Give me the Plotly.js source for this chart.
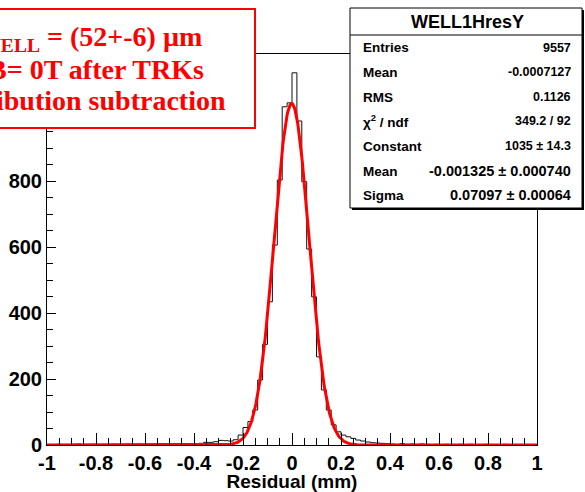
<!DOCTYPE html>
<html>
<head>
<meta charset="utf-8">
<script src="https://cdn.plot.ly/plotly-3.0.1.min.js"></script>
<style>
  html, body { margin: 0; padding: 0; background: #ffffff; }
  #plot { width: 585px; height: 492px; }
</style>
</head>
<body>
<div id="plot"></div>
<script>
// Residual histogram: 100 bins of 0.02 mm between -1 and 1 mm
const binLow = -1.0;
const binWidth = 0.02;
const counts = [
  // -1.00 .. -0.42
  1, 0, 2, 1, 1, 2, 3, 1, 1, 2,
  1, 1, 0, 2, 1, 1, 2, 1, 0, 1,
  2, 1, 1, 3, 2, 1, 2, 3, 2, 3,
  // -0.40 .. -0.02
  4, 5, 8, 8, 10, 14, 13, 12, 16, 30,
  53, 71, 106, 197, 305, 434, 606, 803, 1025, 1037,
  // 0.00 .. 0.38
  1128, 982, 798, 594, 449, 267, 167, 106, 61, 40,
  30, 25, 20, 15, 12, 9, 7, 6, 5, 4,
  // 0.40 .. 0.98
  3, 2, 4, 2, 3, 2, 3, 2, 1, 2,
  1, 2, 1, 1, 2, 1, 2, 1, 1, 2,
  0, 1, 1, 2, 1, 0, 1, 1, 0, 1
];

// Gaussian fit parameters (from the fit result)
const fitConstant = 1035;
const fitMean = -0.001325;
const fitSigma = 0.07097;

// Statistics box rows
const statTitle = 'WELL1HresY';
const statLabels = ['Entries', 'Mean', 'RMS', 'χ<sup>2</sup> / ndf', 'Constant', 'Mean', 'Sigma'];
const statValues = ['9557', '-0.0007127', '0.1126', '349.2 / 92', '1035 ± 14.3', '-0.001325 ± 0.000740', '0.07097 ± 0.00064'];

// Axis ticks
const xTickVals = [-1, -0.8, -0.6, -0.4, -0.2, 0, 0.2, 0.4, 0.6, 0.8, 1];
const xTickText = ['-1', '-0.8', '-0.6', '-0.4', '-0.2', '0', '0.2', '0.4', '0.6', '0.8', '1'];
const yTickVals = [0, 200, 400, 600, 800, 1000];
const yTickText = ['0', '200', '400', '600', '800', '1000'];

// Info pave lines
const paveLines = [
  'σ<sub>WELL</sub> = (52+-6) µm',
  'B= 0T after TRKs',
  'distribution subtraction'
];

// Histogram outline as a step line over the bin edges
const edgeX = counts.map((_, i) => binLow + i * binWidth);
edgeX.push(binLow + counts.length * binWidth);
const edgeY = counts.slice();
edgeY.push(counts[counts.length - 1]);

// Fitted gaussian curve
const fitX = [], fitY = [];
for (let i = 0; i <= 800; i++) {
  const x = -1 + i * 0.0025;
  fitX.push(x);
  fitY.push(fitConstant * Math.exp(-0.5 * Math.pow((x - fitMean) / fitSigma, 2)));
}

// Plot frame in pixels, used to place the boxes
const L = 47, R = 537, T = 54, B = 445;
const fx = p => (p - L) / (R - L);
const fy = p => (B - p) / (B - T);

const traces = [
  {
    x: edgeX, y: edgeY, type: 'scatter', mode: 'lines',
    line: { shape: 'hv', color: '#111111', width: 1 },
    hoverinfo: 'skip'
  },
  {
    x: fitX, y: fitY, type: 'scatter', mode: 'lines',
    line: { color: '#ff0000', width: 3 },
    hoverinfo: 'skip'
  }
];

const sans = 'Liberation Sans, Arial, sans-serif';
const tickFont = { family: sans, size: 20, weight: 'bold', color: '#000' };

const shapes = [
  // info pave (red frame)
  { type: 'rect', xref: 'paper', yref: 'paper', layer: 'above',
    x0: fx(-20), x1: fx(255), y0: fy(128), y1: fy(9),
    line: { color: '#ff0000', width: 2 }, fillcolor: '#ffffff' },
  // stats box shadow
  { type: 'rect', xref: 'paper', yref: 'paper', layer: 'above',
    x0: fx(352), x1: fx(584), y0: fy(210), y1: fy(10),
    line: { width: 0 }, fillcolor: '#000000' },
  // stats box
  { type: 'rect', xref: 'paper', yref: 'paper', layer: 'above',
    x0: fx(350), x1: fx(582), y0: fy(208), y1: fy(8),
    line: { color: '#000000', width: 1 }, fillcolor: '#ffffff' },
  // title separator
  { type: 'line', xref: 'paper', yref: 'paper', layer: 'above',
    x0: fx(350), x1: fx(582), y0: fy(35), y1: fy(35),
    line: { color: '#000000', width: 1 } }
];

const annotations = [];
const paveRight = [204, 206, 228];
const paveMid = [39, 69, 100];
paveLines.forEach((t, i) => {
  annotations.push({
    xref: 'paper', yref: 'paper', x: fx(paveRight[i]), y: fy(paveMid[i]),
    xanchor: 'right', yanchor: 'middle', showarrow: false, text: t,
    font: { family: 'Liberation Serif, Times New Roman, serif', size: 28, weight: 'bold', color: '#ff0000' }
  });
});

annotations.push({
  xref: 'paper', yref: 'paper', x: fx(467), y: fy(22),
  xanchor: 'center', yanchor: 'middle', showarrow: false, text: statTitle,
  font: { family: sans, size: 18, weight: 'bold', color: '#000' }
});
const rowY = [48, 72, 97, 121, 146, 171, 195];
const valueSize = [12.5, 12.5, 12.5, 12.5, 12.5, 14.5, 14.5];
statLabels.forEach((t, i) => {
  annotations.push({
    xref: 'paper', yref: 'paper', x: fx(361), y: fy(rowY[i]),
    xanchor: 'left', yanchor: 'middle', showarrow: false, text: t,
    font: { family: sans, size: 13.5, weight: 'bold', color: '#000' }
  });
  annotations.push({
    xref: 'paper', yref: 'paper', x: fx(573), y: fy(rowY[i]),
    xanchor: 'right', yanchor: 'middle', showarrow: false, text: statValues[i],
    font: { family: sans, size: valueSize[i], weight: 'bold', color: '#000' }
  });
});

const layout = {
  width: 585, height: 492,
  margin: { l: L, r: 585 - R, t: T, b: 492 - B, pad: 0 },
  paper_bgcolor: '#ffffff', plot_bgcolor: '#ffffff',
  showlegend: false,
  xaxis: {
    range: [-1, 1], tickmode: 'array', tickvals: xTickVals, ticktext: xTickText,
    ticks: 'inside', ticklen: 12, tickwidth: 1, tickcolor: '#000',
    minor: { dtick: 0.05, tick0: 0, ticks: 'inside', ticklen: 7, tickwidth: 1, tickcolor: '#000', showgrid: false },
    showline: true, linecolor: '#000', linewidth: 1, mirror: true,
    showgrid: false, zeroline: false, tickfont: tickFont,
    title: { text: 'Residual (mm)', standoff: 8,
      font: { family: sans, size: 19, weight: 'bold', color: '#000' } }
  },
  yaxis: {
    range: [0, 1185], tickmode: 'array', tickvals: yTickVals, ticktext: yTickText,
    ticks: 'inside', ticklen: 9, tickwidth: 1, tickcolor: '#000',
    minor: { dtick: 50, tick0: 0, ticks: 'inside', ticklen: 6, tickwidth: 1, tickcolor: '#000', showgrid: false },
    showline: true, linecolor: '#000', linewidth: 1, mirror: true,
    showgrid: false, zeroline: false, tickfont: tickFont
  },
  shapes: shapes,
  annotations: annotations
};

Plotly.newPlot('plot', traces, layout, { staticPlot: true, displayModeBar: false });
</script>
</body>
</html>
